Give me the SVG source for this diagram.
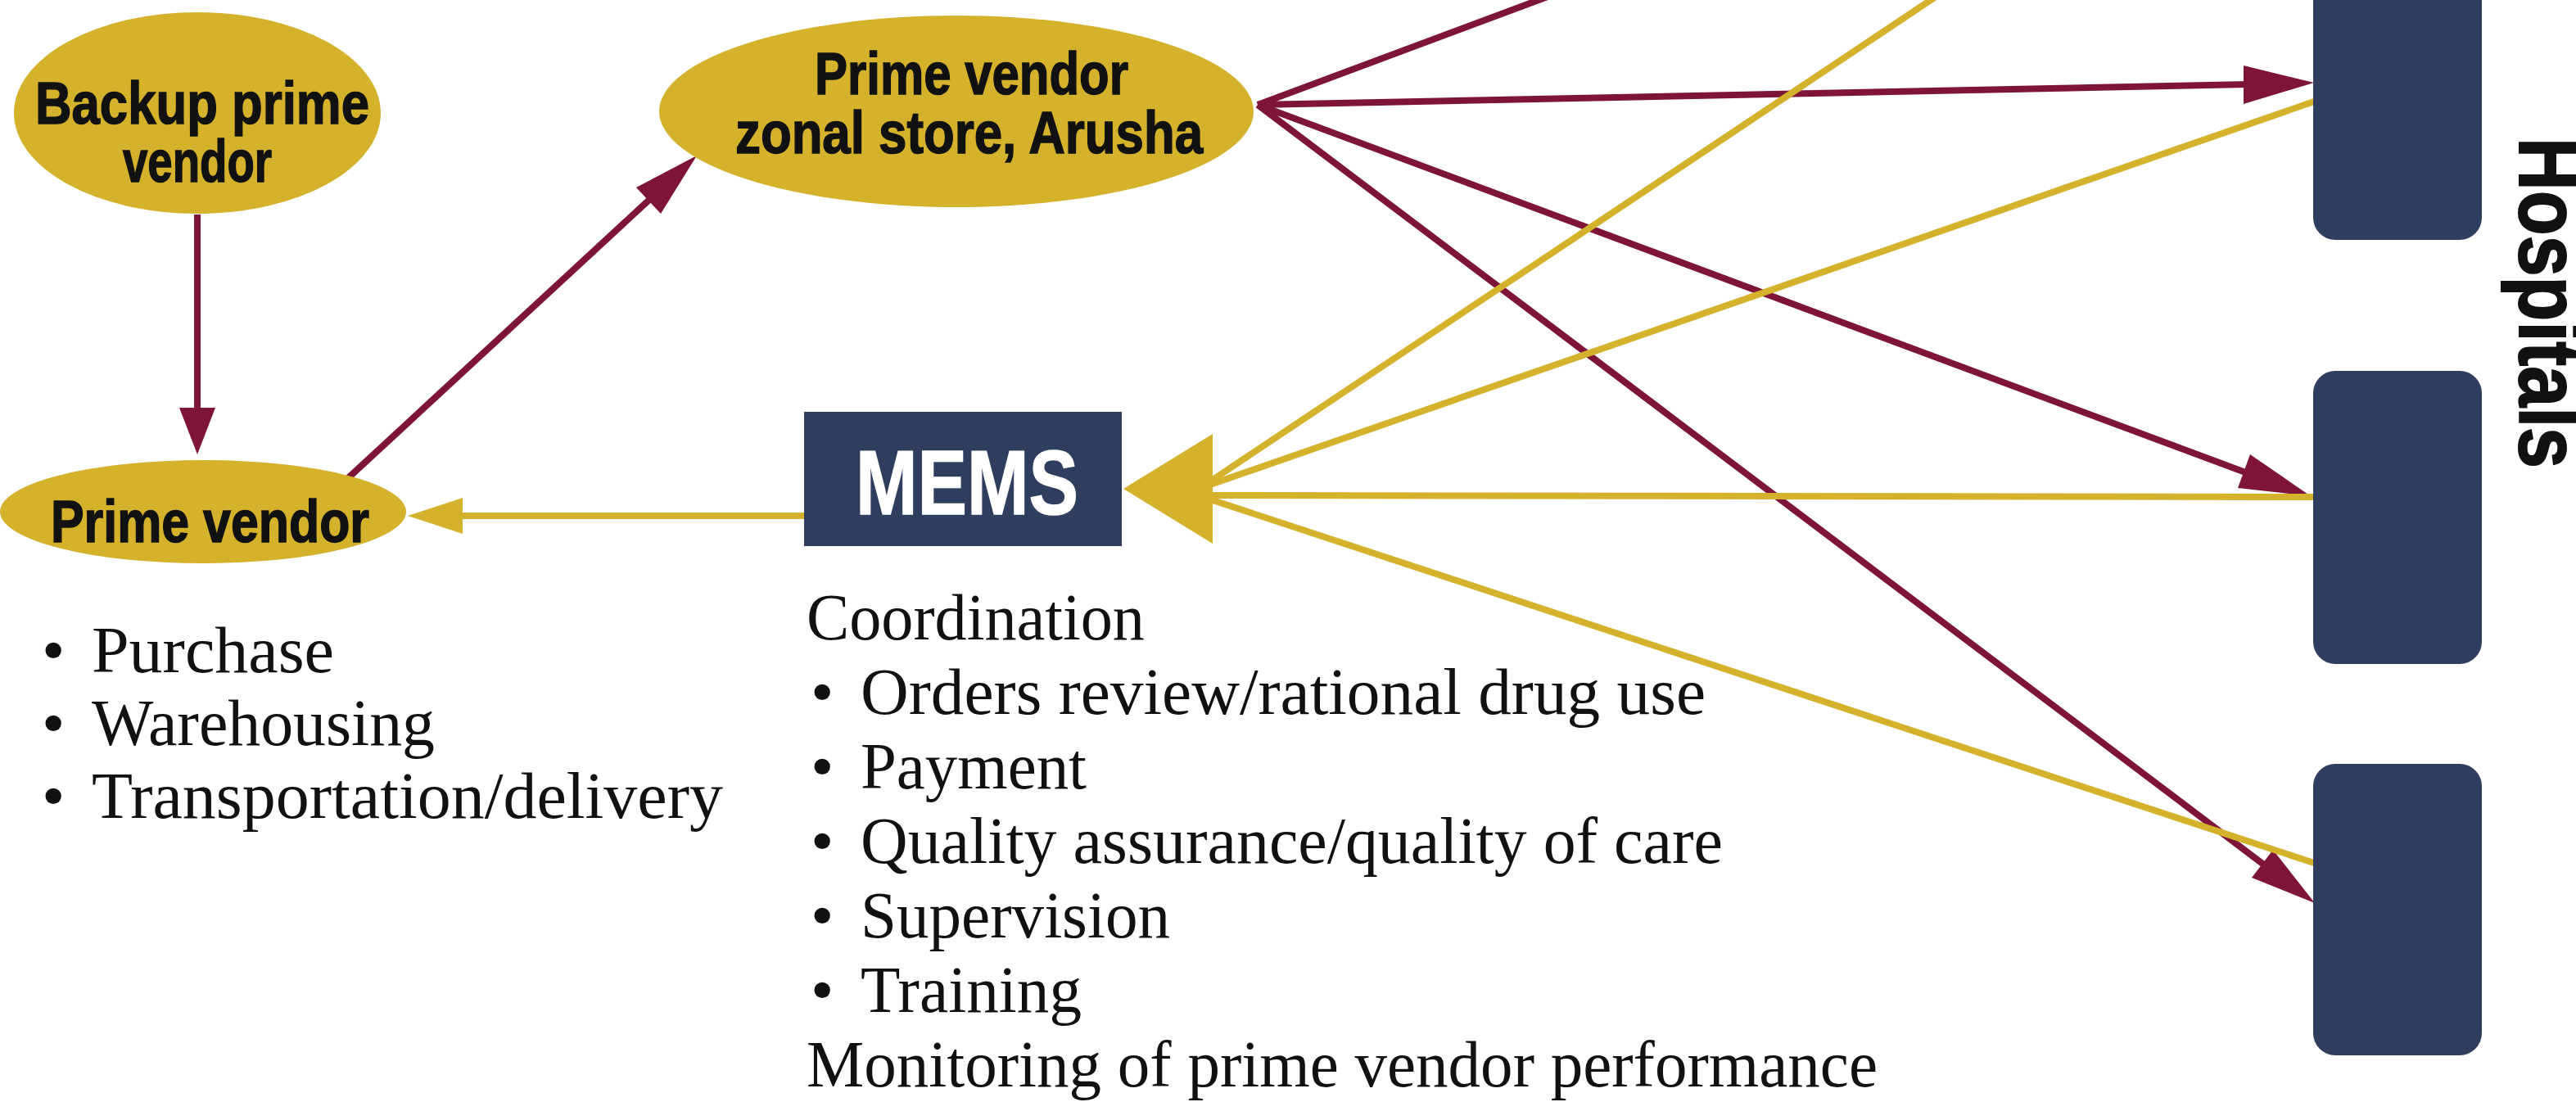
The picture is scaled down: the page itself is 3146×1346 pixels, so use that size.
<svg xmlns="http://www.w3.org/2000/svg" width="3146" height="1346" viewBox="0 0 3146 1346">
<style>
.bg{fill:#ffffff}
.gold{fill:#D4B22C}
.navy{fill:#2F3E5F}
.red{stroke:#7E1538;stroke-width:8;fill:none}
.gl{stroke:#D4B22C;stroke-width:8;fill:none}
.rh{fill:#7E1538}
.gh{fill:#D4B22C}
.lbl{font-family:"Liberation Sans",Arial,sans-serif;font-weight:bold;font-size:73px;fill:#111111;stroke:#111111;stroke-width:1.5px}
.mems{font-family:"Liberation Sans",Arial,sans-serif;font-weight:bold;font-size:112px;fill:#ffffff;stroke:#ffffff;stroke-width:1.5px}
.hosp{font-family:"Liberation Sans",Arial,sans-serif;font-weight:bold;font-size:106px;fill:#111111;stroke:#111111;stroke-width:2px}
.body{font-family:"Liberation Serif","Times New Roman",serif;font-size:81px;fill:#111111}
</style>
<rect class="bg" x="0" y="0" width="3146" height="1346"/>

<g id="connectors">
  <!-- backup -> prime vendor -->
  <line class="red" x1="241" y1="262" x2="241" y2="502"/>
  <polygon class="rh" points="219,498 263,498 241,555"/>
  <!-- prime vendor -> zonal store -->
  <line class="red" x1="425" y1="584" x2="794" y2="243"/>
  <polygon class="rh" points="851,190 777,229 807,261"/>
  <!-- zonal store -> hospitals -->
  <line class="red" x1="1536" y1="128" x2="1890" y2="-4"/>
  <line class="red" x1="1536" y1="128" x2="2745" y2="103"/>
  <polygon class="rh" points="2826,101 2740,80 2740,127"/>
  <line class="red" x1="1536" y1="128" x2="2745" y2="578"/>
  <polygon class="rh" points="2822,606 2733,596 2748,555"/>
  <line class="red" x1="1536" y1="128" x2="2766" y2="1057"/>
  <polygon class="rh" points="2827,1103 2750,1072 2776,1038"/>
  <!-- hospitals -> MEMS (gold) -->
  <line class="gl" x1="2364" y1="-4" x2="1478" y2="588"/>
  <line class="gl" x1="2826" y1="124" x2="1478" y2="592"/>
  <line class="gl" x1="2826" y1="607" x2="1478" y2="605"/>
  <line class="gl" x1="2826" y1="1054" x2="1478" y2="610"/>
  <polygon class="gh" points="1372,597 1481,530 1481,664"/>
  <!-- MEMS -> prime vendor -->
  <line class="gl" x1="984" y1="630" x2="560" y2="630"/>
  <polygon class="gh" points="498,630 565,608 565,652"/>
</g>

<g id="backup-prime-vendor">
  <ellipse class="gold" cx="241" cy="138" rx="224" ry="123"/>
  <text class="lbl" x="43" y="151" textLength="408" lengthAdjust="spacingAndGlyphs">Backup prime</text>
  <text class="lbl" x="150" y="222" textLength="182" lengthAdjust="spacingAndGlyphs">vendor</text>
</g>

<g id="prime-vendor">
  <ellipse class="gold" cx="248" cy="625" rx="248" ry="63"/>
  <text class="lbl" x="62" y="662" textLength="389" lengthAdjust="spacingAndGlyphs">Prime vendor</text>
</g>

<g id="zonal-store">
  <ellipse class="gold" cx="1168" cy="136" rx="363" ry="117"/>
  <text class="lbl" x="995" y="115" textLength="383" lengthAdjust="spacingAndGlyphs">Prime vendor</text>
  <text class="lbl" x="898" y="187" textLength="571" lengthAdjust="spacingAndGlyphs">zonal store, Arusha</text>
</g>

<g id="mems">
  <rect class="navy" x="982" y="503" width="388" height="164"/>
  <text class="mems" x="1045" y="628" textLength="272" lengthAdjust="spacingAndGlyphs">MEMS</text>
</g>

<g id="hospital-1">
  <rect class="navy" x="2825" y="-40" width="206" height="333" rx="27" ry="27"/>
</g>
<g id="hospital-2">
  <rect class="navy" x="2825" y="453" width="206" height="358" rx="27" ry="27"/>
</g>
<g id="hospital-3">
  <rect class="navy" x="2825" y="933" width="206" height="356" rx="27" ry="27"/>
</g>
<g id="hospitals-label">
  <text class="hosp" transform="translate(3077,168) rotate(90)" x="0" y="0" textLength="404" lengthAdjust="spacingAndGlyphs">Hospitals</text>
</g>

<g id="prime-vendor-tasks">
  <text class="body" x="51" y="821">•</text>
  <text class="body" x="112" y="821" textLength="296" lengthAdjust="spacingAndGlyphs">Purchase</text>
  <text class="body" x="51" y="910">•</text>
  <text class="body" x="112" y="910" textLength="419" lengthAdjust="spacingAndGlyphs">Warehousing</text>
  <text class="body" x="51" y="999">•</text>
  <text class="body" x="112" y="999" textLength="771" lengthAdjust="spacingAndGlyphs">Transportation/delivery</text>
</g>

<g id="mems-tasks">
  <text class="body" x="985" y="781" textLength="413" lengthAdjust="spacingAndGlyphs">Coordination</text>
  <text class="body" x="990" y="872">•</text>
  <text class="body" x="1051" y="872" textLength="1032" lengthAdjust="spacingAndGlyphs">Orders review/rational drug use</text>
  <text class="body" x="990" y="963">•</text>
  <text class="body" x="1051" y="963" textLength="276" lengthAdjust="spacingAndGlyphs">Payment</text>
  <text class="body" x="990" y="1054">•</text>
  <text class="body" x="1051" y="1054" textLength="1053" lengthAdjust="spacingAndGlyphs">Quality assurance/quality of care</text>
  <text class="body" x="990" y="1145">•</text>
  <text class="body" x="1051" y="1145" textLength="378" lengthAdjust="spacingAndGlyphs">Supervision</text>
  <text class="body" x="990" y="1236">•</text>
  <text class="body" x="1051" y="1236" textLength="270" lengthAdjust="spacingAndGlyphs">Training</text>
  <text class="body" x="985" y="1327" textLength="1308" lengthAdjust="spacingAndGlyphs">Monitoring of prime vendor performance</text>
</g>
</svg>
